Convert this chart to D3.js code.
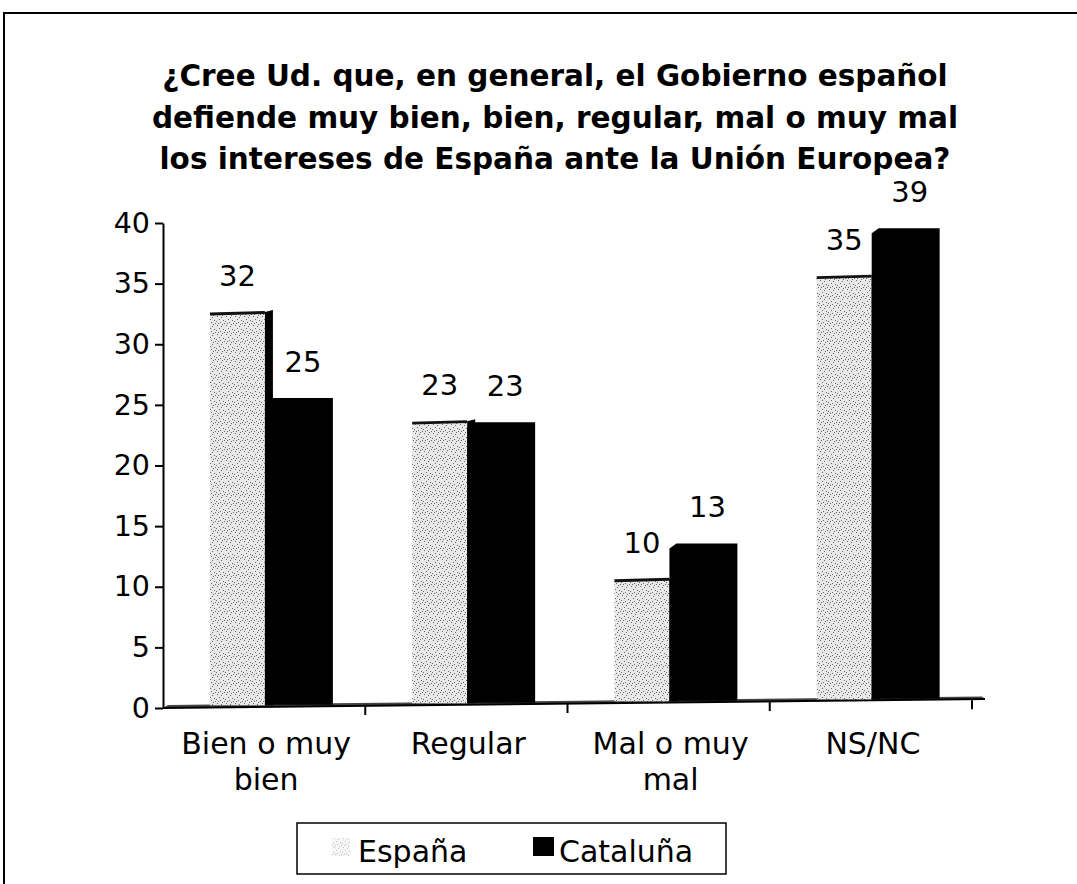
<!DOCTYPE html>
<html><head><meta charset="utf-8">
<script src="https://cdn.jsdelivr.net/npm/d3@7"></script>
<style>body{margin:0;background:#fff}text{font-family:"DejaVu Sans",Verdana,sans-serif}</style>
</head><body>
<svg id="c" width="1077" height="884"></svg>
<script>
const categories = ["Bien o muy bien","Regular","Mal o muy mal","NS/NC"];
const categoryLines = [["Bien o muy","bien"],["Regular"],["Mal o muy","mal"],["NS/NC"]];
const espana = [32,23,10,35];
const cataluna = [25,23,13,39];
const yTicks = [0,5,10,15,20,25,30,35,40];
const seriesNames = ["España","Cataluña"];
const titleLines = ["¿Cree Ud. que, en general, el Gobierno español",
  "defiende muy bien, bien, regular, mal o muy mal",
  "los intereses de España ante la Unión Europea?"];

const svg = d3.select("#c");
const defs = svg.append("defs");
const pat = defs.append("pattern").attr("id","speck").attr("patternUnits","userSpaceOnUse")
  .attr("width",9).attr("height",9);
pat.append("rect").attr("width",9).attr("height",9).attr("fill","#e8e8e8");
[[1,1],[5,2],[3,4],[7,5],[0,6],[4,7],[8,8],[2,8],[6,0]].forEach(p=>
  pat.append("rect").attr("x",p[0]).attr("y",p[1]).attr("width",1).attr("height",1).attr("fill","#6a6a6a"));

// frame
svg.append("rect").attr("x",4).attr("y",13).attr("width",1090).attr("height",900)
  .attr("fill","none").attr("stroke","#000").attr("stroke-width",2);

// title
svg.append("text").attr("x",555).attr("text-anchor","middle")
  .style("font-weight","bold").style("font-size","29.5px")
  .selectAll("tspan").data(titleLines).join("tspan")
  .attr("x",555).attr("y",(d,i)=>86+i*41.5).text(d=>d);

const x = d3.scaleBand().domain(categories).range([163,972]).padding(0);
const y = d3.scaleLinear().domain([0,40]).range([708,223]);
const floorY = px => 708 - (px-163)*8/822;
const depth = 7;

// floor
svg.append("polygon")
  .attr("points",[[163,708],[985,699],[982,696.5],[168,705]].map(p=>p.join(",")).join(" "))
  .attr("fill","#444").attr("stroke","none");
svg.append("line").attr("x1",163).attr("y1",708).attr("x2",985).attr("y2",699)
  .attr("stroke","#000").attr("stroke-width",2);
// x ticks
svg.selectAll(".xt").data(categories).join("line").attr("class","xt")
  .attr("x1",d=>x(d)+x.bandwidth()).attr("x2",d=>x(d)+x.bandwidth())
  .attr("y1",d=>floorY(x(d)+x.bandwidth())).attr("y2",d=>floorY(x(d)+x.bandwidth())+9)
  .attr("stroke","#000").attr("stroke-width",2);

// y axis
const ya = svg.append("g").attr("transform","translate(163,0)")
  .call(d3.axisLeft(y).tickValues(yTicks).tickSize(8).tickSizeOuter(0).tickPadding(5));
ya.selectAll("path,line").attr("stroke","#000").attr("stroke-width",2);
ya.selectAll("text").style("font-size","28.5px").style("font-family","'DejaVu Sans',Verdana,sans-serif").attr("fill","#000");

// bars
const g = svg.append("g");
categories.forEach((c,i)=>{
  const xb = x(c);
  const bw = x.bandwidth();
  const eL = xb + bw*0.232, eR = xb + bw*0.504;
  const cL = eR, cR = xb + bw*0.84;
  const eTop = y(espana[i]) - depth, cTop = y(cataluna[i]) - depth;
  const eBot = floorY((eL+eR)/2) - 2, cBot = floorY((cL+cR)/2) - 2;
  g.append("rect").attr("x",eL).attr("y",eTop).attr("width",eR-eL).attr("height",eBot-eTop)
    .attr("fill","url(#speck)");
  g.append("line").attr("x1",eL).attr("y1",eTop+1).attr("x2",eR).attr("y2",eTop-0.5)
    .attr("stroke","#111").attr("stroke-width",3);
  g.append("polygon").attr("points",[[eR,eTop-1],[eR+8,eTop-3],[eR+8,eBot],[eR,eBot]].map(p=>p.join(",")).join(" "))
    .attr("fill","#000");
  g.append("polygon").attr("points",[[cL,cTop+5],[cL+7,cTop],[cR,cTop],[cR,cBot],[cL,cBot]].map(p=>p.join(",")).join(" "))
    .attr("fill","#000");
  g.append("text").attr("x",(eL+eR)/2).attr("y",eTop-27).attr("text-anchor","middle")
    .style("font-size","29px").text(espana[i]);
  g.append("text").attr("x",(cL+cR)/2+4).attr("y",cTop-26).attr("text-anchor","middle")
    .style("font-size","29px").text(cataluna[i]);
});

// category labels
svg.selectAll(".cl").data(categories).join("text").attr("class","cl")
  .attr("text-anchor","middle").style("font-size","30px")
  .each(function(d,i){
    d3.select(this).selectAll("tspan").data(categoryLines[i]).join("tspan")
      .attr("x",x(d)+x.bandwidth()/2+2).attr("y",(t,j)=>754+j*36).text(t=>t);
  });

// legend
svg.append("rect").attr("x",297).attr("y",823).attr("width",429).attr("height",51)
  .attr("fill","#fff").attr("stroke","#000").attr("stroke-width",1.5);
svg.append("rect").attr("x",332).attr("y",838).attr("width",18).attr("height",18).attr("fill","url(#speck)").attr("opacity",0.4);
svg.append("text").attr("x",358).attr("y",862).style("font-size","30px").text(seriesNames[0]);
svg.append("rect").attr("x",533).attr("y",837).attr("width",21).attr("height",19).attr("fill","#000");
svg.append("text").attr("x",559).attr("y",862).style("font-size","30px").text(seriesNames[1]);
</script>
</body></html>
